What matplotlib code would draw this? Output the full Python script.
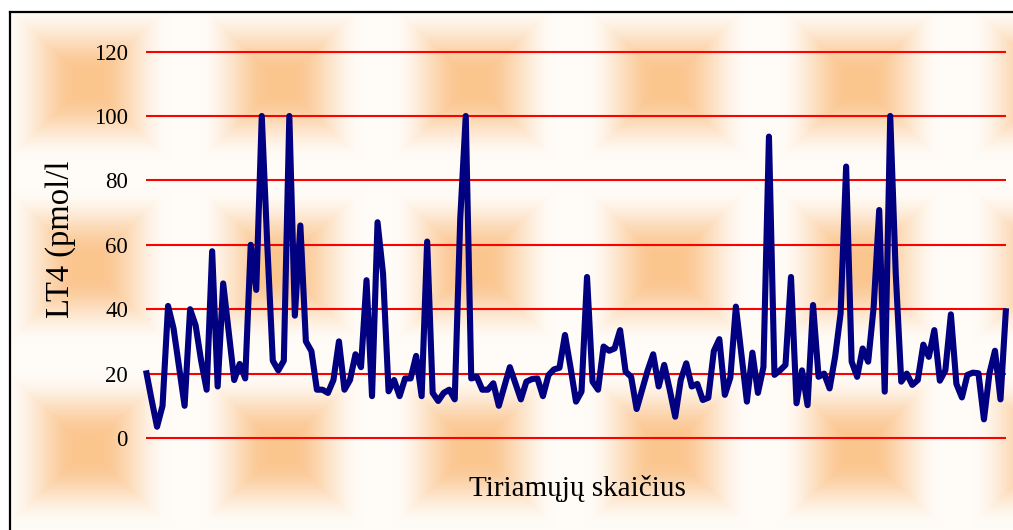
import numpy as np
import matplotlib
matplotlib.use("Agg")
import matplotlib.pyplot as plt
from matplotlib.transforms import Bbox, TransformedBbox

# ── data ─────────────────────────────────────────────────────────────────────
lt4 = [21, 12, 3.5, 10, 41, 34, 22, 10, 40, 35,
       24, 15, 58, 16, 48, 33, 18, 23, 18.5, 60,
       46, 100, 60, 24, 21, 24, 100, 38, 66, 30,
       27, 15, 15, 14, 18, 30, 15, 18, 26, 22,
       49, 13, 67, 51, 14.5, 18, 13, 18.5, 18.5, 25.5,
       13, 61, 14, 11.5, 14, 15, 12, 68, 100, 18.5,
       19, 15, 15, 17, 10, 16, 22, 17, 12, 17.5,
       18.3, 18.5, 13, 19.5, 21.3, 21.8, 32, 22, 11.3, 14.4,
       50, 17.5, 15, 28.4, 27.1, 27.8, 33.5, 20.6, 19, 9,
       15, 21, 26, 16, 22.7, 15, 6.6, 18, 23.2, 16,
       16.8, 11.8, 12.5, 27, 30.7, 13.4, 18.8, 40.8, 26, 11.3,
       26.5, 14, 22, 93.6, 19.6, 21, 22.7, 50, 10.8, 21,
       10.2, 41.3, 19, 20, 15.4, 25.2, 38.7, 84.3, 23.7, 19,
       27.8, 23.7, 40.8, 70.8, 14.4, 100, 51, 17.5, 20, 16.5,
       18, 29, 25.2, 33.5, 17.8, 21, 38.4, 16.8, 12.6, 19.6,
       20.3, 20.1, 5.8, 20.1, 27.1, 12, 40.3]
y_ticks = [0, 20, 40, 60, 80, 100, 120]
x_title = "Tiriamųjų skaičius"
y_title = "LT4 (pmol/l)"

samples = np.arange(len(lt4))

W, H, DPI = 1013, 530, 100
SERIF = "Liberation Serif"

fig = plt.figure(figsize=(W / DPI, H / DPI), dpi=DPI, facecolor="white")

# ── tiled peach background inside the chart frame ────────────────────────────
FX, FY = 9, 11                    # frame corner (px)
px = np.arange(W) + 0.5
py = np.arange(H) + 0.5
X, Y = np.meshgrid(px, py)
TW, TH = 193.0, 183.0             # tile size
CX0, CY0 = 88.0, 83.0             # centre of one blob
u = np.abs(((X - CX0 + TW / 2) % TW) - TW / 2) / (TW / 2)
v = np.abs(((Y - CY0 + TH / 2) % TH) - TH / 2) / (TH / 2)
t = 1 - np.maximum(u, v)
s = np.clip((t - 0.15) / 0.75, 0, 1)
s = s * s * (3 - 2 * s)
edge = np.array([255, 252, 248]) / 255
core = np.array([251, 197, 142]) / 255
bg = edge + (core - edge) * s[..., None]
bg[(Y < FY) | (X < FX)] = 1.0

ax_bg = fig.add_axes([0, 0, 1, 1])
ax_bg.imshow(bg, extent=[0, W, H, 0], aspect="auto", interpolation="bilinear")
ax_bg.plot([FX + 0.5, FX + 0.5], [H, FY + 0.5], color="black", lw=1.6)
ax_bg.plot([FX + 0.5, W], [FY + 0.5, FY + 0.5], color="black", lw=1.6)
ax_bg.set_xlim(0, W)
ax_bg.set_ylim(H, 0)
ax_bg.axis("off")

# ── plot area ────────────────────────────────────────────────────────────────
L, R, TOP, BOT = 146, 1006, 51.6, 438
ax = fig.add_axes([L / W, (H - BOT) / H, (R - L) / W, (BOT - TOP) / H])
ax.patch.set_alpha(0)
ax.set_xlim(0, len(lt4) - 1)
ax.set_ylim(0, 120)

ax.hlines(y_ticks, 0, len(lt4) - 1, colors="#FF0000", lw=1.5, clip_on=False, zorder=1)
ax.plot(samples, lt4, color="#000080", lw=4.4, solid_joinstyle="round",
        solid_capstyle="butt", clip_on=False, zorder=3)

ax.set_xticks([])
ax.set_yticks(y_ticks)
ax.set_yticklabels([str(v) for v in y_ticks], fontfamily=SERIF, fontsize=16.5)
ax.tick_params(axis="y", length=0, pad=13)
for sp in ax.spines.values():
    sp.set_visible(False)

fig.text(577 / W, (H - 496.5) / H, x_title, ha="center", va="baseline",
         fontsize=21, family=SERIF)

# the axis title box is too short, so the end of the title is cut off
ylab = fig.text(61 / W, (H - 318) / H, y_title, rotation=90, ha="center",
                va="bottom", fontsize=23.5, family=SERIF)
ylab.set_clip_box(TransformedBbox(Bbox([[0, 0], [1, (H - 162) / H]]), fig.transFigure))
ylab.set_clip_on(True)

fig.savefig("out.png", dpi=DPI, facecolor="white")
